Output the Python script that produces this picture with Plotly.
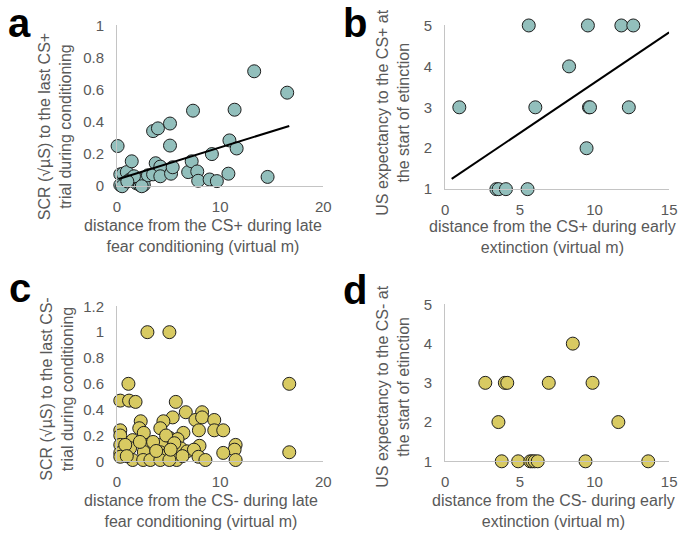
import plotly.graph_objects as go

W, H = 685, 540

# ---------------- data ----------------
a_x = [0.06, 0.32, 0.57, 0.95, 1.27, 0.32, 1.9, 2.22, 2.6, 2.22, 1.65, 1.43, 3.0, 3.5, 3.5, 3.97, 3.75,
       4.2, 4.2, 5.14, 5.14, 5.24, 5.4, 6.9, 7.24, 7.37, 7.78, 7.87, 8.98, 9.2, 9.68, 10.8, 10.9, 11.4,
       11.6, 13.3, 14.6, 16.5, 0.5, 2.4, 1.0]
a_y = [0.25, 0.074, 0.078, 0.088, 0.042, 0.008, 0.018, 0.008, 0.008, 0.038, 0.062, 0.155, 0.068, 0.074,
       0.343, 0.36, 0.143, 0.122, 0.062, 0.39, 0.253, 0.078, 0.118, 0.088, 0.155, 0.47, 0.092, 0.034,
       0.042, 0.2, 0.032, 0.078, 0.285, 0.476, 0.235, 0.715, 0.058, 0.582, 0.0, 0.0, 0.03]
a_fit_x = [0.15, 16.7]
a_fit_y = [0.045, 0.375]

b_x = [0.95, 3.43, 3.58, 4.07, 5.52, 5.6, 6.04, 8.3, 9.56, 9.63, 9.7, 9.47, 11.8, 12.6, 12.3]
b_y = [3, 1, 1, 1, 1, 5, 3, 4, 5, 3, 3, 2, 5, 5, 3]
b_fit_x = [0.44, 15.0]
b_fit_y = [1.25, 4.83]

c_x = [2.95, 5.08, 1.11, 16.7, 16.7, 0.32, 1.17, 1.8, 5.7, 6.67, 8.25, 7.6, 8.25, 9.43, 5.4, 4.5, 2.3,
       4.2, 2.16, 0.32, 0.32, 0.32, 0.32, 0.32, 2.6, 6.44, 7.94, 9.43, 10.3, 1.52, 5.08, 5.87, 3.02, 4.29,
       8.0, 11.5, 11.4, 10.3, 4.2, 4.9, 6.2, 6.8, 7.46, 2.6, 1.27, 7.9, 1.52, 2.54, 3.24, 4.2, 5.78, 8.57,
       11.5, 5.08, 6.35, 3.5, 0.8, 2.22, 4.76, 5.56, 3.8, 0.95, 5.2]
c_y = [1.0, 1.0, 0.6, 0.6, 0.07, 0.47, 0.47, 0.46, 0.46, 0.38, 0.38, 0.32, 0.34, 0.32, 0.34, 0.31, 0.31,
       0.256, 0.256, 0.24, 0.2, 0.127, 0.065, 0.035, 0.22, 0.22, 0.24, 0.24, 0.24, 0.164, 0.182, 0.172,
       0.127, 0.127, 0.12, 0.127, 0.09, 0.065, 0.07, 0.052, 0.1, 0.077, 0.09, 0.072, 0.102, 0.035, 0.01,
       0.01, 0.01, 0.01, 0.01, 0.01, 0.01, 0.01, 0.04, 0.15, 0.127, 0.15, 0.2, 0.14, 0.08, 0.04, 0.09]

d_x = [2.69, 4.0, 4.16, 6.94, 9.87, 8.55, 3.57, 11.6, 3.79, 4.89, 5.7, 5.84, 6.0, 6.2, 9.4, 13.6]
d_y = [3, 3, 3, 3, 3, 4, 2, 2, 1, 1, 1, 1, 1, 1, 1, 1]

x_title_a = "distance from the CS+ during late<br>fear conditioning (virtual m)"
y_title_a = "SCR (√µS) to the last CS+<br>trial during conditioning"
x_title_b = "distance from the CS+ during early<br>extinction (virtual m)"
y_title_b = "US expectancy to the CS+ at<br>the start of etinction"
x_title_c = "distance from the CS- during late<br>fear conditioning (virtual m)"
y_title_c = "SCR (√µS) to the last CS-<br>trial during conditioning"
x_title_d = "distance from the CS- during early<br>extinction (virtual m)"
y_title_d = "US expectancy to the CS- at<br>the start of etinction"

# ---------------- style ----------------
TEAL = "#92bfbc"
YELLOW = "#d8ca62"
EDGE = "#1e1e1e"
GRAY_TXT = "#595959"
AXIS = "#c4c4c4"
FONT = "Liberation Sans, Arial, sans-serif"


def px(x, y):
    return x / W, 1 - y / H


def dom(x0, x1, ytop, ybot):
    return [x0 / W, x1 / W], [1 - ybot / H, 1 - ytop / H]


fig = go.Figure()

panels = [
    (a_x, a_y, TEAL, (a_fit_x, a_fit_y), [0, 20], [0, 1], 10, 0.2, (115, 325), (17, 183)),
    (b_x, b_y, TEAL, (b_fit_x, b_fit_y), [0, 15], [1, 5], 5, 1, (449, 677), (17, 186)),
    (c_x, c_y, YELLOW, None, [0, 20], [0, 1.2], 10, 0.2, (115, 325), (307, 467)),
    (d_x, d_y, YELLOW, None, [0, 15], [1, 5], 5, 1, (449, 677), (305, 467)),
]

for i, (xs, ys, col, fit, xr, yr, xdt, ydt, xd, yd) in enumerate(panels, start=1):
    sfx = "" if i == 1 else str(i)
    xa, ya = "x" + sfx, "y" + sfx
    fig.add_trace(go.Scatter(
        x=xs, y=ys, mode="markers", xaxis=xa, yaxis=ya, cliponaxis=False,
        marker=dict(size=13, color=col, line=dict(color=EDGE, width=1)),
        showlegend=False, hoverinfo="skip"))
    if fit is not None:
        fig.add_trace(go.Scatter(
            x=fit[0], y=fit[1], mode="lines", xaxis=xa, yaxis=ya, cliponaxis=False,
            line=dict(color="black", width=2), showlegend=False, hoverinfo="skip"))
    xdom, ydom = dom(xd[0], xd[1], yd[0], yd[1])
    common = dict(showgrid=False, zeroline=False, showline=True, linecolor=AXIS, linewidth=1,
                  ticks="", tickfont=dict(family=FONT, size=15, color=GRAY_TXT), fixedrange=True)
    fig.update_layout(**{
        "xaxis" + sfx: dict(domain=xdom, range=xr, dtick=xdt, tick0=0, anchor=ya,
                            ticklabelstandoff=7, **common),
        "yaxis" + sfx: dict(domain=ydom, range=yr, dtick=ydt, tick0=0, anchor=xa,
                            ticklabelstandoff=9, **common),
    })

annotations = []


def add_text(text, x, y, size=16, angle=0, color=GRAY_TXT, bold=False):
    xx, yy = px(x, y)
    annotations.append(dict(
        text=("<b>%s</b>" % text) if bold else text, x=xx, y=yy, xref="paper", yref="paper",
        showarrow=False, textangle=angle, xanchor="center", yanchor="middle",
        font=dict(family=FONT, size=size, color=color)))


add_text(x_title_a, 203, 234)
add_text(x_title_b, 558, 235)
add_text(x_title_c, 201, 518)
add_text(x_title_d, 559, 518)
add_text(y_title_a, 52, 122, angle=-90)
add_text(y_title_b, 396, 107, angle=-90)
add_text(y_title_c, 54, 393, angle=-90)
add_text(y_title_d, 396, 390, angle=-90)

add_text("a", 16, 14, size=40, color="black", bold=True)
add_text("b", 357, 14, size=40, color="black", bold=True)
add_text("c", 16, 288, size=40, color="black", bold=True)
add_text("d", 357, 290, size=40, color="black", bold=True)

fig.update_layout(
    width=W, height=H, margin=dict(l=0, r=0, t=0, b=0),
    paper_bgcolor="white", plot_bgcolor="white",
    annotations=annotations, font=dict(family=FONT))

fig.write_html("out.html", config={"displayModeBar": False, "staticPlot": True},
               post_script="document.body.style.margin='0';document.body.style.padding='0';")
